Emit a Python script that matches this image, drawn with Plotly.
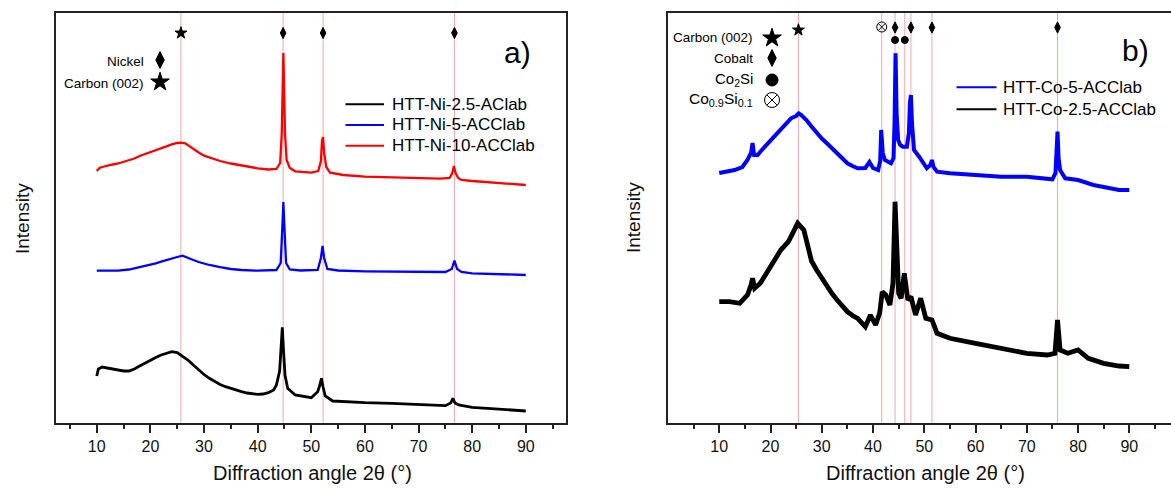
import plotly.graph_objects as go

W, H = 1171, 488
FONT = "Liberation Sans, Arial, sans-serif"

# ---------------- data: panel a (Ni) ----------------
ni10_x = [10, 10.5, 11, 12, 13, 14, 15, 16, 17, 18, 19, 20, 21, 22, 23, 24, 25, 25.7, 26.5, 27.2, 28,
          29, 30, 31.5, 33, 35, 37, 40, 42, 43.5, 44.2, 44.5, 44.7, 44.8, 44.9, 45.1, 45.4, 46, 47, 50,
          51.3, 51.8, 52.0, 52.2, 52.4, 52.8, 53.5, 56, 60, 65, 70, 74, 75.8, 76.3, 76.6, 76.9, 77.4, 78,
          80, 85, 90]
ni10_y = [252, 255, 256, 257.5, 258.5, 259.5, 261, 262.5, 264.5, 267, 269, 271, 273, 275.3, 277, 278.7,
          280, 280.3, 279.7, 277, 273.7, 270.5, 267.3, 264.5, 262, 259.5, 257.5, 254.7, 253.5, 254, 260,
          290, 345, 370, 345, 290, 263, 255, 251.7, 250.3, 252, 262, 282, 286, 270, 256, 250.3, 248, 246.3,
          245.7, 245, 244.3, 245, 250, 257, 250, 245, 243, 242, 240.3, 238]

ni5_x = [10, 12, 14, 16, 18, 20, 21, 22, 23, 24, 25, 26, 27, 28, 29, 30, 31, 33, 35, 37, 40, 43.5, 44.3,
         44.6, 44.8, 45.0, 45.3, 46, 48, 51.2, 51.8, 52.1, 52.4, 53, 55, 60, 65, 70, 75, 76.2, 76.7,
         77.2, 78, 80, 85, 90]
ni5_y = [152.3, 152.3, 152.3, 153.5, 155.7, 158.3, 159.7, 161.3, 163, 164.7, 166, 167.3, 165.5, 163,
         161, 159.5, 158, 155.8, 154, 153, 152.3, 153, 160, 195, 221, 195, 160, 153.5, 152.5, 153, 165,
         177, 165, 154, 152.5, 151.7, 151.7, 151.7, 151, 154, 162.3, 154, 151, 149.7, 148.7, 148]

ni25_x = [10, 10.3, 11, 12, 13, 14, 15, 16, 17, 18, 19, 20, 21, 22, 23, 24, 25, 26, 27, 28, 29, 30, 31,
          32, 33, 34, 35, 36, 37, 38, 39, 40, 41, 42, 43, 43.5, 44.1, 44.4, 44.6, 44.8, 45.1, 45.6, 47,
          50, 51.2, 51.6, 51.9, 52.2, 52.6, 54, 60, 65, 70, 75, 76.0, 76.4, 76.8, 77.5, 80, 85, 90]
ni25_y = [47, 54, 56, 55, 54, 52.5, 52, 52, 54, 57, 60, 63, 65.5, 68, 70, 71.3, 70.5, 67, 63, 58, 53,
          48.5, 44.7, 41.5, 38.5, 36.3, 34.5, 32.5, 31.3, 30, 29, 28.7, 29, 30.3, 33, 38, 52, 75, 95.7, 75,
          48, 34.7, 28, 25.3, 31.3, 38, 44.7, 36, 27, 22, 20.3, 19.7, 18.3, 17.3, 20, 24.7, 20, 18, 15.7,
          13.7, 12]

# ---------------- data: panel b (Co) ----------------
co5_x = [10, 11.5, 13, 14.5, 15.5, 16.2, 16.5, 16.8, 17.5, 18, 19, 20, 21, 22, 23, 24, 25, 25.5, 26,
         27, 28, 29, 30, 31, 32, 33, 34, 35, 36, 37, 38.5, 39.3, 40, 41, 41.4, 41.6, 41.9, 42.3, 43.5,
         44.0, 44.2, 44.4, 44.6, 44.9, 45.3, 45.8, 46.6, 47.0, 47.2, 47.4, 47.6, 48, 49, 50.5, 51.2,
         51.5, 51.8, 52.5, 55, 60, 65, 70, 75, 75.6, 75.8, 76.0, 76.2, 76.5, 77.5, 80, 83, 86, 88, 90]
co5_y = [250, 251, 253, 256, 263, 270, 280, 268, 268, 271.3, 277, 283, 289, 294.7, 300, 304.7, 307,
         309.7, 308, 303, 296.5, 289.7, 284.5, 279.7, 274.5, 269.7, 264.5, 259.7, 257, 254.7, 255, 261,
         255, 253, 262, 293, 270, 263, 259.7, 265, 300, 369.7, 310, 283, 278, 276.3, 276.3, 290, 320,
         328, 300, 273, 266.3, 254.7, 258, 263, 256, 251.3, 249.7, 248, 246.3, 246.3, 243.7, 250, 270,
         291.3, 265, 253, 244.7, 243, 238, 234.7, 233, 233]

co25_x = [10, 12, 14, 15.5, 16.2, 16.5, 16.9, 18, 19, 20, 21, 22, 23.5, 24.5, 25.3, 26.5, 27.5, 28, 29,
          30, 31, 32, 33, 34, 35, 36, 37, 38.5, 39.5, 40.5, 41.3, 41.8, 42.5, 43.3, 43.9, 44.3, 44.7,
          45.0, 45.5, 46.1, 46.8, 47.4, 48.3, 49.3, 50.3, 51.5, 52.5, 55, 60, 65, 70, 74, 75.5, 76.0,
          76.5, 78, 80, 82, 85, 88, 90]
co25_y = [121.3, 121.3, 119.7, 128, 138, 144.7, 134.7, 139.7, 148, 156.3, 165, 173, 181.3, 192, 199.7,
          193, 169.7, 162, 153, 144.5, 136.3, 129.5, 123, 117, 111.3, 107.5, 104.7, 96.3, 108, 98, 110,
          131.3, 128, 118, 140, 221.3, 150, 129.7, 124.7, 149.7, 123, 126.3, 108, 124.7, 104.7, 103,
          89.7, 84.7, 79.7, 74.7, 69.7, 68, 69.7, 103, 73, 69.7, 73, 64.7, 59.7, 57, 56.3]

# reference lines / phase markers
ni_lines = [25.7, 44.75, 52.2, 76.7]
ni_star_x = [25.7]
ni_diamond_x = [44.75, 52.2, 76.7]

co_lines = [25.45, 41.7, 44.3, 46.2, 47.4, 51.5, 76.0]
co_star_x = [25.45]
co_cross_x = [41.7]
co_diamond_x = [44.3, 47.4, 51.5, 76.0]
co_circle_x = [44.3, 46.2]

tick_vals = [10, 20, 30, 40, 50, 60, 70, 80, 90]
minor_vals = [5, 15, 25, 35, 45, 55, 65, 75, 85, 95]

ni_names = ["HTT-Ni-2.5-AClab", "HTT-Ni-5-ACClab", "HTT-Ni-10-ACClab"]
co_names = ["HTT-Co-5-ACClab", "HTT-Co-2.5-ACClab"]


def px(x):
    return x / W


def py(y):
    return 1 - y / H


fig = go.Figure()

# panel a curves
ni_series = [(ni25_x, ni25_y, "black", 2.8), (ni5_x, ni5_y, "#0000ff", 2.3), (ni10_x, ni10_y, "#ff0000", 2.3)]
for (xs, ys, c, w), n in zip(ni_series, ni_names):
    fig.add_trace(go.Scatter(x=xs, y=ys, mode="lines", name=n, line=dict(color=c, width=w),
                             xaxis="x", yaxis="y", showlegend=False))

# panel b curves
co_series = [(co5_x, co5_y, "#0000ff", 4), (co25_x, co25_y, "black", 4.8)]
for (xs, ys, c, w), n in zip(co_series, co_names):
    fig.add_trace(go.Scatter(x=xs, y=ys, mode="lines", name=n, line=dict(color=c, width=w),
                             xaxis="x2", yaxis="y2", showlegend=False))


# phase markers
def mk(xs, yv, sym, size, ax):
    return go.Scatter(x=xs, y=[yv] * len(xs), mode="markers", showlegend=False,
                      xaxis=ax[0], yaxis=ax[1],
                      marker=dict(symbol=sym, size=size, color="black",
                                  line=dict(color="black", width=1)))


fig.add_trace(mk(ni_star_x, 390, "star", 9, ("x", "y")))
fig.add_trace(mk(ni_diamond_x, 390, "diamond-tall", 8, ("x", "y")))
fig.add_trace(mk(co_star_x, 393, "star", 9, ("x2", "y2")))
fig.add_trace(mk(co_diamond_x, 395.5, "diamond-tall", 8, ("x2", "y2")))
fig.add_trace(mk(co_circle_x, 383, "circle", 7, ("x2", "y2")))
fig.add_trace(mk(co_cross_x, 396, "circle-x-open", 10, ("x2", "y2")))

# key markers (phase key) in the corners
fig.add_trace(mk([21.8], 363, "diamond-tall", 12, ("x", "y")))
fig.add_trace(mk([21.8], 341, "star", 14, ("x", "y")))
fig.add_trace(mk([20.3], 385, "star", 14, ("x2", "y2")))
fig.add_trace(mk([20.3], 365, "diamond-tall", 12, ("x2", "y2")))
fig.add_trace(mk([20.3], 343, "circle", 12, ("x2", "y2")))
fig.add_trace(mk([20.3], 323, "circle-x-open", 15, ("x2", "y2")))

shapes = []
for v in ni_lines:
    shapes.append(dict(type="line", xref="x", yref="y domain", x0=v, x1=v, y0=0, y1=1,
                       line=dict(color="#f4a8a8", width=1), layer="below"))
for v in co_lines:
    shapes.append(dict(type="line", xref="x2", yref="y2 domain", x0=v, x1=v, y0=0, y1=1,
                       line=dict(color="#f4a8a8", width=1), layer="below"))

annotations = []


def ptxt(text, x, y, size, xanchor="center", angle=0, color="black"):
    return dict(text=text, x=px(x), y=py(y), xref="paper", yref="paper", xanchor=xanchor,
                yanchor="middle", showarrow=False, textangle=angle,
                font=dict(size=size, color=color, family=FONT))


# manual series keys
ni_key_y = [104.3, 125, 145.7]
ni_colors = ["black", "#0000ff", "#ff0000"]
for n, c, yk in zip(ni_names, ni_colors, ni_key_y):
    shapes.append(dict(type="line", xref="paper", yref="paper", x0=px(345.5), x1=px(384),
                       y0=py(yk), y1=py(yk), line=dict(color=c, width=2)))
    annotations.append(ptxt(n, 389.5, yk, 17, xanchor="left"))
co_key_y = [87.3, 109.3]
co_colors = ["#0000ff", "black"]
for n, c, yk in zip(co_names, co_colors, co_key_y):
    shapes.append(dict(type="line", xref="paper", yref="paper", x0=px(956.5), x1=px(996.5),
                       y0=py(yk), y1=py(yk), line=dict(color=c, width=2)))
    annotations.append(ptxt(n, 1000.5, yk, 17, xanchor="left"))


# phase key labels
def lab(text, x, y, ax, size=13.5):
    return dict(text=text, x=x, y=y, xref=ax[0], yref=ax[1], xanchor="right", yanchor="middle",
                showarrow=False, font=dict(size=size, color="black", family=FONT))


annotations += [lab("Nickel", 19.1, 362, ("x", "y")), lab("Carbon (002)", 19.1, 340, ("x", "y")),
                lab("Carbon (002)", 17.0, 386, ("x2", "y2")), lab("Cobalt", 17.0, 365, ("x2", "y2")),
                lab("Co<sub>2</sub>Si", 17.0, 344, ("x2", "y2"), 15),
                lab("Co<sub>0.9</sub>Si<sub>0.1</sub>", 17.0, 324, ("x2", "y2"), 15.5)]

# panel letters
annotations.append(ptxt("a)", 517, 53, 30))
annotations.append(ptxt("b)", 1135, 50, 30))

# axis titles
for xc in (312, 925):
    annotations.append(ptxt("Diffraction angle 2θ (°)", xc, 473, 20, color="#111"))
for xc in (22, 633):
    annotations.append(ptxt("Intensity", xc, 218, 19, angle=-90, color="#111"))

xcommon = dict(tickmode="array", tickvals=tick_vals, ticks="outside", ticklen=8, tickwidth=1.5,
               tickcolor="#222", showline=True, linewidth=1.6, linecolor="#222", mirror=True,
               showgrid=False, zeroline=False,
               tickfont=dict(size=16, color="#111", family=FONT),
               minor=dict(tickmode="array", tickvals=minor_vals, ticks="outside", ticklen=4,
                          tickwidth=1.5, tickcolor="#222", showgrid=False))
ycommon = dict(range=[0, 410], showticklabels=False, ticks="", showline=True, linewidth=1.6,
               linecolor="#222", showgrid=False, zeroline=False)

fig.update_layout(
    width=W, height=H,
    margin=dict(l=0, r=0, t=0, b=0),
    paper_bgcolor="white", plot_bgcolor="white",
    font=dict(family=FONT),
    xaxis=dict(domain=[px(56), px(566)], range=[2.4, 97.5], anchor="y", **xcommon),
    yaxis=dict(domain=[py(423), py(13)], anchor="x", mirror=True, **ycommon),
    xaxis2=dict(domain=[px(668), 1.0], range=[0, 98.14], anchor="y2", **xcommon),
    yaxis2=dict(domain=[py(423), py(13)], anchor="x2", mirror=False, **ycommon),
    shapes=shapes,
    annotations=annotations,
    showlegend=False,
)

fig.write_html("out.html")
